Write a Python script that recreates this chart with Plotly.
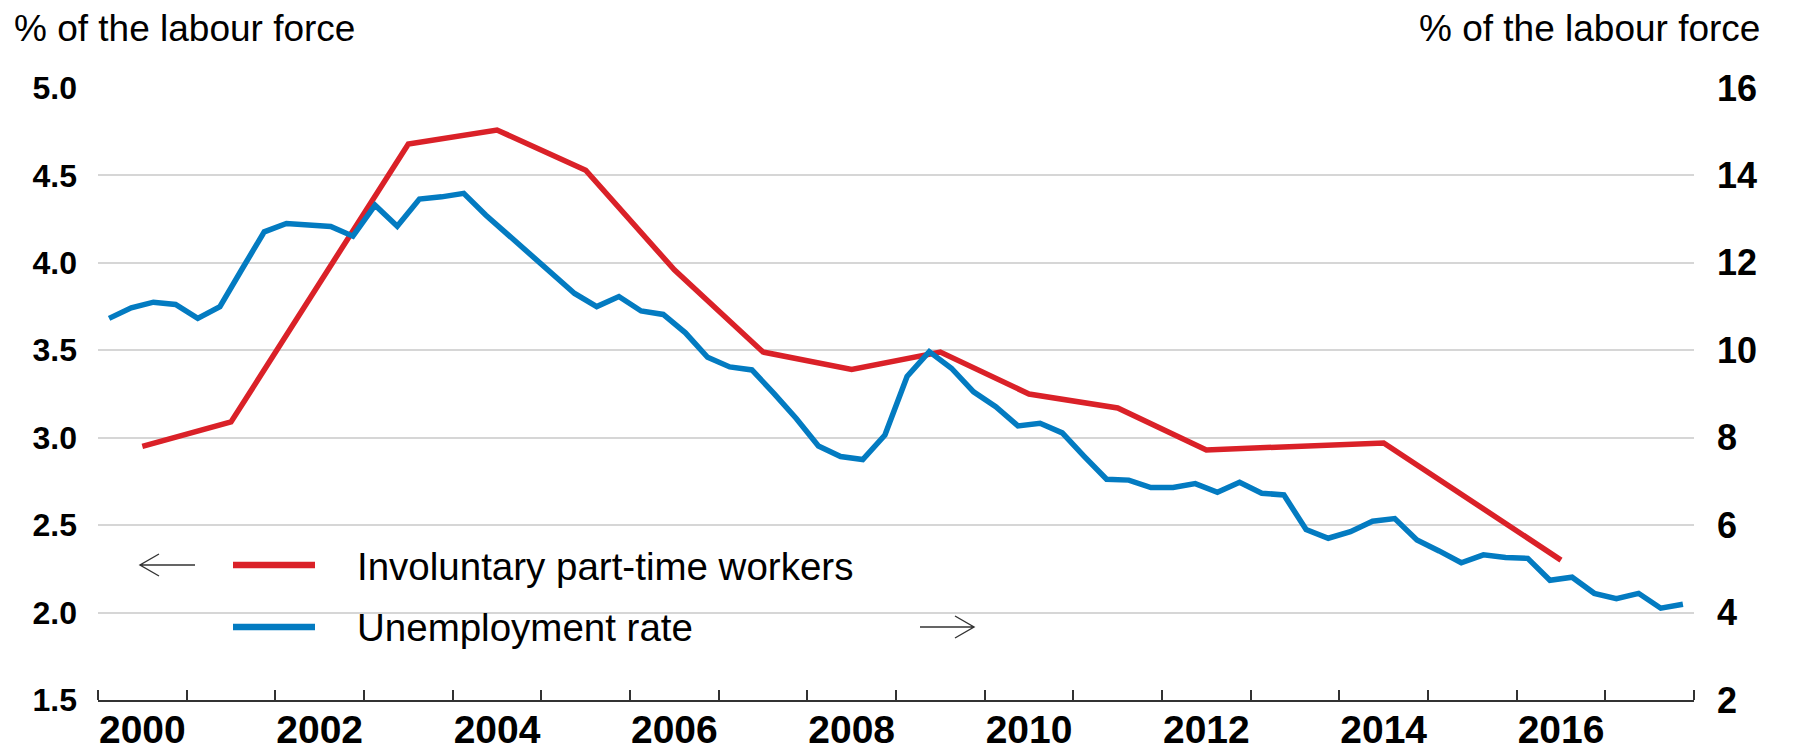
import plotly.graph_objects as go

# ---------------- data ----------------
# Involuntary part-time workers, % of labour force (left axis), annual observations
ipt_years = [2000, 2001, 2003, 2004, 2005, 2006, 2007, 2008, 2009, 2010, 2011, 2012, 2014, 2016]
ipt_values = [2.95, 3.09, 4.68, 4.76, 4.53, 3.96, 3.49, 3.39, 3.49, 3.25, 3.17, 2.93, 2.97, 2.30]

# Unemployment rate, % of labour force (right axis), quarterly 2000Q1-2017Q4
unemp_years = list(range(2000, 2018))
unemp_values = [
    10.73, 10.97, 11.10, 11.05,   # 2000
    10.73, 11.00, 11.86, 12.71,   # 2001
    12.90, 12.87, 12.83, 12.61,   # 2002
    13.32, 12.84, 13.46, 13.51,   # 2003
    13.59, 13.09, 12.64, 12.18,   # 2004
    11.75, 11.30, 11.00, 11.23,   # 2005
    10.90, 10.82, 10.40, 9.84,    # 2006
    9.62, 9.55, 9.01, 8.44,       # 2007
    7.81, 7.57, 7.50, 8.06,       # 2008
    9.40, 9.97, 9.59, 9.05,       # 2009
    8.71, 8.27, 8.33, 8.11,       # 2010
    7.57, 7.05, 7.03, 6.86,       # 2011
    6.86, 6.95, 6.75, 6.98,       # 2012
    6.73, 6.69, 5.90, 5.70,       # 2013
    5.85, 6.09, 6.15, 5.66,       # 2014
    5.41, 5.14, 5.32, 5.26,       # 2015
    5.24, 4.74, 4.81, 4.44,       # 2016
    4.32, 4.44, 4.10, 4.19,       # 2017
]

tick_years = list(range(2000, 2017, 2))
tick_labels = [str(y) for y in tick_years]

series_names = ["Involuntary part-time workers", "Unemployment rate"]
axis_title = "% of the labour force"

# ---------------- styling ----------------
RED = "#DA2128"
BLUE = "#037BC1"
GRID = "#D6D6D6"
AXIS = "#333333"
BOLD = "Liberation Sans, Arial, sans-serif"
REG = "Liberation Sans, Arial, sans-serif"

# page has a default 8px body margin -> figure sits at (8, 8) in the window
OFF = 8
W, H = 1793 - OFF, 751 - OFF
# plot area in window pixels
L, R, T, B = 98, 1694, 88, 700


def px(xp):
    return (xp - L) / (R - L)


def py(yp):
    return (B - yp) / (B - T)


# positions on a continuous year axis (mid-year / mid-quarter)
ipt_x = [y + 0.5 for y in ipt_years]
unemp_x = [y + (q + 0.5) / 4 for y in unemp_years for q in range(4)]

fig = go.Figure()
fig.add_trace(go.Scatter(x=ipt_x, y=ipt_values, mode="lines", name=series_names[0],
                         line=dict(color=RED, width=5.5), yaxis="y"))
fig.add_trace(go.Scatter(x=unemp_x, y=unemp_values, mode="lines", name=series_names[1],
                         line=dict(color=BLUE, width=5.5), yaxis="y2"))

fig.update_layout(
    template="none",
    width=W, height=H,
    margin=dict(l=L - OFF, r=W - (R - OFF), t=T - OFF, b=H - (B - OFF), autoexpand=False),
    paper_bgcolor="white", plot_bgcolor="white",
    showlegend=False,
    xaxis=dict(
        range=[2000, 2018], showgrid=False, zeroline=False,
        showline=True, linecolor=AXIS, linewidth=2,
        tickmode="array", tickvals=[y + 0.5 for y in tick_years], ticktext=tick_labels,
        ticks="", ticklabelstandoff=-6,
        tickfont=dict(family=BOLD, size=39, color="black", weight="bold"),
        minor=dict(tickmode="array", tickvals=list(range(2000, 2019)), ticks="inside",
                   ticklen=10, tickwidth=1.5, tickcolor=AXIS, showgrid=False),
        automargin=False,
    ),
    yaxis=dict(
        range=[1.5, 5.0], dtick=0.5, tick0=1.5, tickformat=".1f",
        showgrid=True, gridcolor=GRID, gridwidth=1.5, zeroline=False,
        showline=False, ticks="", ticklabelstandoff=20,
        tickfont=dict(family=BOLD, size=32, color="black", weight="bold"),
        automargin=False,
    ),
    yaxis2=dict(
        range=[2, 16], dtick=2, tick0=2, overlaying="y", side="right",
        showgrid=False, zeroline=False, showline=False, ticks="", ticklabelstandoff=22,
        tickfont=dict(family=BOLD, size=36, color="black", weight="bold"),
        automargin=False,
    ),
)

annotations = [
    dict(text=axis_title, xref="paper", yref="paper", x=px(12), y=py(29),
         xanchor="left", yanchor="middle", showarrow=False,
         font=dict(family=REG, size=37, color="black")),
    dict(text=axis_title, xref="paper", yref="paper", x=px(1762), y=py(29),
         xanchor="right", yanchor="middle", showarrow=False,
         font=dict(family=REG, size=37, color="black")),
    dict(text=series_names[0], xref="paper", yref="paper", x=px(355), y=py(566),
         xanchor="left", yanchor="middle", showarrow=False,
         font=dict(family=REG, size=38.5, color="black")),
    dict(text=series_names[1], xref="paper", yref="paper", x=px(355), y=py(627),
         xanchor="left", yanchor="middle", showarrow=False,
         font=dict(family=REG, size=38.5, color="black")),
]

shapes = [
    # legend samples
    dict(type="line", xref="paper", yref="paper", x0=px(233), x1=px(315), y0=py(565), y1=py(565),
         line=dict(color=RED, width=6.5)),
    dict(type="line", xref="paper", yref="paper", x0=px(233), x1=px(315), y0=py(627), y1=py(627),
         line=dict(color=BLUE, width=6.5)),
]


def arrow_path(x_tail, x_head, y, head_len=19, head_half=11):
    d = 1 if x_head > x_tail else -1
    return (f"M{px(x_tail)},{py(y)} L{px(x_head)},{py(y)} "
            f"M{px(x_head - d * head_len)},{py(y - head_half)} L{px(x_head)},{py(y)} "
            f"L{px(x_head - d * head_len)},{py(y + head_half)}")


shapes.append(dict(type="path", xref="paper", yref="paper", path=arrow_path(195, 140, 565),
                   line=dict(color="#333333", width=1.4)))
shapes.append(dict(type="path", xref="paper", yref="paper", path=arrow_path(920, 974, 627),
                   line=dict(color="#333333", width=1.4)))

fig.update_layout(annotations=annotations, shapes=shapes)

fig.write_html("out.html")
